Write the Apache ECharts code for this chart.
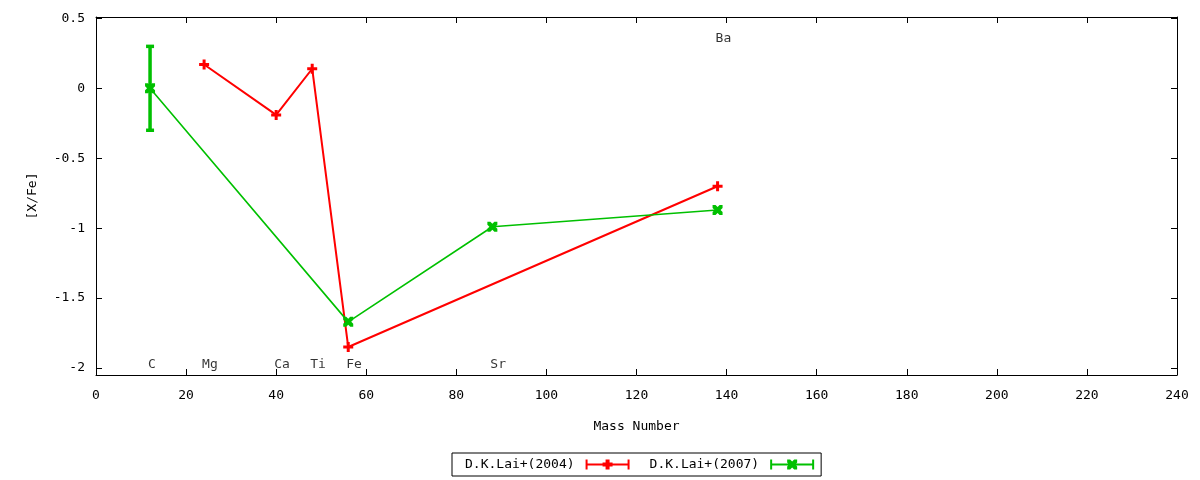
<!DOCTYPE html>
<html>
<head>
<meta charset="utf-8">
<script src="https://cdn.jsdelivr.net/npm/echarts@6/dist/echarts.min.js"></script>
<style>html,body{margin:0;padding:0;background:#fff}#c{width:1200px;height:480px}</style>
</head>
<body>
<div id="c"></div>
<script>
// Data
const lai2004 = [[24, 0.17], [40, -0.19], [48, 0.14], [56, -1.85], [138, -0.70]];
const lai2007 = [[12, 0.0], [56, -1.67], [88, -0.99], [138, -0.87]];
const lai2007Err = [[12, -0.3, 0.3]];
const elementLabels = [[12, -1.96, 'C'], [24, -1.96, 'Mg'], [40, -1.96, 'Ca'], [48, -1.96, 'Ti'], [56, -1.96, 'Fe'], [88, -1.96, 'Sr'], [138, 0.37, 'Ba']];
const yTicks = [-2, -1.5, -1, -0.5, 0, 0.5];
const seriesNames = ['D.K.Lai+(2004)', 'D.K.Lai+(2007)'];

const FONT = 'DejaVu Sans Mono';
const RED = '#ff0000', GREEN = '#00c000';
const plusPath = 'path://M3.5,0h3v3.5h3.5v3h-3.5v3.5h-3v-3.5h-3.5v-3h3.5z';
const xPath = 'path://M0,0h3l2,2l2,-2h3v3l-2,2l2,2v3h-3l-2,-2l-2,2h-3v-3l2,-2l-2,-2z';
const legRed = 'path://M0,0h2v10h-2zM42,0h2v10h-2zM0,4h44v2h-44zM20,0h4v10h-4zM17,3h10v4h-10z';
const legGreen = 'path://M0,0h2v10h-2zM42,0h2v10h-2zM0,4h44v2h-44zM17,0h3l2,2l2,-2h3v3l-2,2l2,2v3h-3l-2,-2l-2,2h-3v-3l2,-2l-2,-2z';

const chart = echarts.init(document.getElementById('c'));
const axisCommon = {
  axisLine: {show: true, onZero: false, lineStyle: {color: '#000', width: 1}},
  axisTick: {show: true, inside: true, length: 6, lineStyle: {color: '#000', width: 1}},
  splitLine: {show: false}
};
chart.setOption({
  animation: false,
  backgroundColor: '#fff',
  textStyle: {fontFamily: FONT},
  grid: {left: 96, right: 23, top: 17, bottom: 105, containLabel: false},
  xAxis: [
    Object.assign({type: 'value', position: 'bottom', min: 0, max: 240, interval: 20,
      name: 'Mass Number', nameLocation: 'middle', nameGap: 45,
      nameTextStyle: {fontFamily: FONT, fontSize: 13, color: '#000'},
      axisLabel: {fontFamily: FONT, fontSize: 13, color: '#000', margin: 14}}, axisCommon),
    Object.assign({type: 'value', position: 'top', min: 0, max: 240, interval: 20,
      axisLabel: {show: false}}, axisCommon)
  ],
  yAxis: [
    Object.assign({type: 'value', position: 'left', min: -2.05, max: 0.51,
      name: '[X/Fe]', nameLocation: 'middle', nameGap: 57, nameRotate: 90,
      nameTextStyle: {fontFamily: FONT, fontSize: 13, color: '#000'},
      axisLabel: {fontFamily: FONT, fontSize: 13, color: '#000', margin: 11, customValues: yTicks}},
      axisCommon, {axisTick: {show: true, inside: true, length: 6, customValues: yTicks, lineStyle: {color: '#000', width: 1}}}),
    Object.assign({type: 'value', position: 'right', min: -2.05, max: 0.51,
      axisLabel: {show: false}},
      axisCommon, {axisTick: {show: true, inside: true, length: 6, customValues: yTicks, lineStyle: {color: '#000', width: 1}}})
  ],
  legend: {
    left: 452, top: 453, orient: 'horizontal', align: 'right',
    borderColor: '#000', borderWidth: 1, padding: [5, 7, 5, 13],
    itemWidth: 44, itemHeight: 10, itemGap: 20,
    textStyle: {fontFamily: FONT, fontSize: 13, color: '#000', padding: [0, 6, 0, 0]},
    data: [
      {name: seriesNames[0], icon: legRed, itemStyle: {color: RED}},
      {name: seriesNames[1], icon: legGreen, itemStyle: {color: GREEN}}
    ]
  },
  series: [
    {name: seriesNames[0], type: 'line', data: lai2004, symbol: plusPath, symbolSize: 10,
      lineStyle: {color: RED, width: 2}, itemStyle: {color: RED}, z: 3},
    {name: seriesNames[1], type: 'line', data: lai2007, symbol: xPath, symbolSize: 10,
      lineStyle: {color: GREEN, width: 1.6}, itemStyle: {color: GREEN}, z: 3},
    {name: seriesNames[1], type: 'custom', data: lai2007Err, z: 4,
      renderItem: function (params, api) {
        const top = api.coord([api.value(0), api.value(2)]);
        const bot = api.coord([api.value(0), api.value(1)]);
        const hw = 4;
        const st = {stroke: GREEN, lineWidth: 3.5, fill: null};
        return {type: 'group', children: [
          {type: 'line', shape: {x1: top[0], y1: top[1], x2: bot[0], y2: bot[1]}, style: st},
          {type: 'line', shape: {x1: top[0] - hw, y1: top[1], x2: top[0] + hw, y2: top[1]}, style: st},
          {type: 'line', shape: {x1: bot[0] - hw, y1: bot[1], x2: bot[0] + hw, y2: bot[1]}, style: st}
        ]};
      }},
    {name: 'labels', type: 'scatter', data: elementLabels, symbolSize: 0, silent: true,
      label: {show: true, position: 'inside', align: 'left', verticalAlign: 'middle', offset: [-2, 2],
        fontFamily: FONT, fontSize: 13, color: '#000', formatter: p => p.data[2]}}
  ]
});
</script>
</body>
</html>
